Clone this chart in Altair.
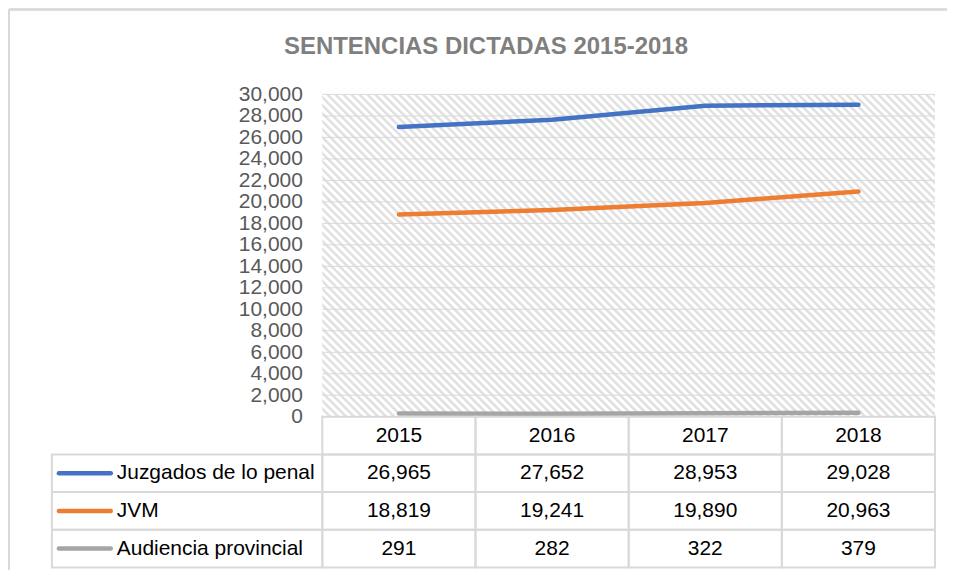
import altair as alt
import pandas as pd

# ---- data ----
years = ["2015", "2016", "2017", "2018"]
series = ["Juzgados de lo penal", "JVM", "Audiencia provincial"]
juzgados = [26965, 27652, 28953, 29028]
jvm = [18819, 19241, 19890, 20963]
audiencia = [291, 282, 322, 379]
colors = ["#4472C4", "#ED7D31", "#A5A5A5"]
y_ticks = list(range(0, 30001, 2000))
title_text = "SENTENCIAS DICTADAS 2015-2018"

rows = []
for name, vals in zip(series, [juzgados, jvm, audiencia]):
    for yr, v in zip(years, vals):
        rows.append({"year": yr, "series": name, "value": v})
df = pd.DataFrame(rows)
df_years = pd.DataFrame({"year": years, "row": ["h"] * len(years)})
df_series = pd.DataFrame({"series": series})
df_ticks = pd.DataFrame({"v": y_ticks})
df_title = pd.DataFrame({"t": [title_text]})

W, H = 614, 323
FONT = "Liberation Sans"

xscale = alt.Scale(type="band", domain=years, paddingInner=0, paddingOuter=0)
yscale = alt.Scale(domain=[0, 30000], nice=False, zero=True)
yaxis = alt.Axis(values=y_ticks, labelExpr="format(datum.value, ',')",
                 grid=False, domain=False, ticks=False,
                 labelFontSize=21, labelFont=FONT, labelColor="#595959",
                 labelPadding=20, labelOverlap=False, labelFlush=False, title=None)
cscale = alt.Scale(domain=series, range=colors)
row_domain = ["h"] + series
tscale = alt.Scale(type="band", domain=row_domain, range=[H, H + 151],
                   paddingInner=0, paddingOuter=0)

# ---- plot area ----
hatch = alt.Chart(alt.sequence(0, 125, as_="k")).transform_calculate(
    hx1=f"datum.k*8 - {H}", hx2="datum.k*8", hy1="0", hy2=str(H)
).mark_rule(clip=True, color="#e0e0e0", strokeWidth=2.5).encode(
    x=alt.X("hx1:Q", scale=None, axis=None),
    x2="hx2:Q",
    y=alt.Y("hy1:Q", scale=None, axis=None),
    y2="hy2:Q",
)

grid = alt.Chart(df_ticks).mark_rule(color="#d9d9d9", strokeWidth=1).encode(
    y=alt.Y("v:Q", scale=yscale, axis=yaxis),
    x=alt.value(0), x2=alt.value(W),
)

lines = alt.Chart(df).mark_line(strokeWidth=4.5, strokeCap="round").encode(
    x=alt.X("year:N", scale=xscale, bandPosition=0.5, axis=None),
    y=alt.Y("value:Q", scale=yscale, axis=yaxis),
    color=alt.Color("series:N", scale=cscale, legend=None),
    detail="series:N",
)

plot_layer = alt.layer(hatch, grid, lines)

# ---- data table ----
cell_style = dict(fill="white", fillOpacity=0, stroke="#d9d9d9", strokeWidth=2)

header_cells = alt.Chart(df_years).mark_rect(**cell_style).encode(
    x=alt.X("year:N", scale=xscale, axis=None),
    y=alt.Y("row:N", scale=tscale, axis=None),
)
value_cells = alt.Chart(df).mark_rect(**cell_style).encode(
    x=alt.X("year:N", scale=xscale, axis=None),
    y=alt.Y("series:N", scale=tscale, axis=None),
)
name_cells = alt.Chart(df_series).mark_rect(**cell_style).encode(
    x=alt.value(-271), x2=alt.value(0),
    y=alt.Y("series:N", scale=tscale, axis=None),
)
header_text = alt.Chart(df_years).mark_text(font=FONT, fontSize=21, color="#000000").encode(
    x=alt.X("year:N", scale=xscale, bandPosition=0.5, axis=None),
    y=alt.Y("row:N", scale=tscale, bandPosition=0.5, axis=None),
    text="year:N",
)
value_text = alt.Chart(df).mark_text(font=FONT, fontSize=21, color="#000000").encode(
    x=alt.X("year:N", scale=xscale, bandPosition=0.5, axis=None),
    y=alt.Y("series:N", scale=tscale, bandPosition=0.5, axis=None),
    text=alt.Text("value:Q", format=","),
)
name_text = alt.Chart(df_series).mark_text(font=FONT, fontSize=21, color="#000000",
                                           align="left").encode(
    x=alt.value(-206),
    y=alt.Y("series:N", scale=tscale, bandPosition=0.5, axis=None),
    text="series:N",
)
legend_rules = alt.Chart(df_series).mark_rule(strokeWidth=4.5, strokeCap="round").encode(
    x=alt.value(-264), x2=alt.value(-212),
    y=alt.Y("series:N", scale=tscale, bandPosition=0.5, axis=None),
    color=alt.Color("series:N", scale=cscale, legend=None),
)

table_layer = alt.layer(header_cells, value_cells, name_cells,
                        header_text, value_text, name_text, legend_rules)

# ---- outer frame (left and top edges) and title ----
frame_left = alt.Chart(df_series).mark_rule(color="#d9d9d9", strokeWidth=2).encode(
    x=alt.value(-314), y=alt.value(-85), y2=alt.value(H + 162))
frame_top = alt.Chart(df_series).mark_rule(color="#d9d9d9", strokeWidth=2).encode(
    x=alt.value(-314), x2=alt.value(W + 12), y=alt.value(-85))
title = alt.Chart(df_title).mark_text(font=FONT, fontSize=24, fontWeight="bold",
                                      color="#7f7f7f", align="center",
                                      baseline="middle").encode(
    x=alt.value(164), y=alt.value(-47), text="t:N")

chart = alt.layer(frame_left, frame_top, title, plot_layer, table_layer).resolve_scale(
    y="independent"
).properties(
    width=W, height=H,
    padding={"left": 315, "top": 86, "right": 12, "bottom": 153},
    autosize=alt.AutoSizeParams(type="none"),
).configure_view(stroke=None)

chart.save("out.html", embed_options={"renderer": "svg", "actions": False})
